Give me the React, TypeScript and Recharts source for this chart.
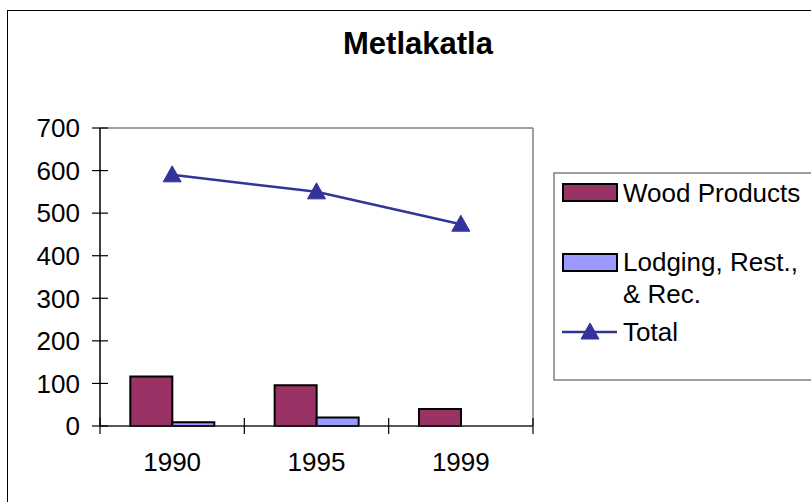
import React from "react";
import { ComposedChart, Bar, Line, XAxis, YAxis } from "recharts";

const years = ["1990", "1995", "1999"];
const woodProducts = [116, 96, 40];
const lodging = [9, 20, 0];
const totals = [590, 550, 474];
const yTicks = [0, 100, 200, 300, 400, 500, 600, 700];

const seriesNames = { wood: "Wood Products", lodging: "Lodging, Rest., & Rec.", total: "Total" };
const colors = { wood: "#993366", lodging: "#9999FF", total: "#333399" };

const data = years.map((y, i) => ({
  year: y,
  wood: woodProducts[i],
  lodging: lodging[i] > 0 ? lodging[i] : null,
  total: totals[i],
}));

const FONT = "'Liberation Sans', Arial, Helvetica, sans-serif";
const W = 811;
const H = 502;
const MARGIN = { top: 128, right: 278, bottom: 16, left: 40 };
const Y_AXIS_W = 60;
const X_AXIS_H = 60;
const TICK = 8;
const plotLeft = MARGIN.left + Y_AXIS_W;
const plotRight = W - MARGIN.right;
const plotTop = MARGIN.top;
const plotBottom = H - MARGIN.bottom - X_AXIS_H;
const plotWidth = plotRight - plotLeft;
const band = plotWidth / years.length;

const YTick = (props: any) => {
  const { x, y, payload } = props;
  const lx = x + 12;
  return (
    <g>
      <line x1={lx} x2={lx + TICK * 2} y1={y} y2={y} stroke="#000" strokeWidth={1.2} />
      <text x={x} y={y} dy="0.355em" textAnchor="end" fontSize={26} fontFamily={FONT} fill="#000">
        {payload.value}
      </text>
    </g>
  );
};

const XTick = (props: any) => {
  const { x, y, payload, index } = props;
  const axisY = y - TICK - 19;
  const left = x - band / 2;
  const right = x + band / 2;
  return (
    <g>
      <line x1={left} x2={left} y1={axisY - TICK} y2={axisY + TICK} stroke="#000" strokeWidth={1.2} />
      {index === years.length - 1 && (
        <line x1={right} x2={right} y1={axisY - TICK} y2={axisY + TICK} stroke="#000" strokeWidth={1.2} />
      )}
      <text x={x} y={y} dy="0.71em" textAnchor="middle" fontSize={26} fontFamily={FONT} fill="#000">
        {payload.value}
      </text>
    </g>
  );
};

const Triangle = (props: any) => {
  const { cx, cy } = props;
  if (cx == null || cy == null) return null;
  return <path d={`M${cx},${cy - 9} L${cx + 9},${cy + 7} L${cx - 9},${cy + 7} Z`} fill={colors.total} stroke={colors.total} />;
};

export default function App() {
  return (
    <div style={{ position: "absolute", left: 0, top: 0, width: W, height: H, overflow: "hidden", background: "#fff" }}>
      <div
        style={{
          position: "absolute",
          left: 7,
          top: 10,
          width: 1200,
          height: 1200,
          borderLeft: "1px solid #000",
          borderTop: "1px solid #000",
        }}
      />
      <div
        style={{
          position: "absolute",
          left: 0,
          width: 836,
          top: 26,
          textAlign: "center",
          fontFamily: FONT,
          fontWeight: "bold",
          fontSize: 31,
          lineHeight: "36px",
        }}
      >
        Metlakatla
      </div>
      <svg width={W} height={H} style={{ position: "absolute", left: 0, top: 0 }}>
        <line x1={plotLeft} x2={plotRight} y1={plotTop} y2={plotTop} stroke="#808080" strokeWidth={1.5} />
        <line x1={plotRight} x2={plotRight} y1={plotTop} y2={plotBottom} stroke="#808080" strokeWidth={1.5} />
      </svg>
      <div style={{ position: "absolute", left: 0, top: 0 }}>
        <ComposedChart width={W} height={H} data={data} margin={MARGIN} barCategoryGap="21%" barGap={0}>
          <XAxis
            dataKey="year"
            height={X_AXIS_H}
            tickSize={TICK}
            tickMargin={19}
            tickLine={false}
            tick={<XTick />}
            axisLine={{ stroke: "#222", strokeWidth: 1.5 }}
            interval={0}
          />
          <YAxis
            width={Y_AXIS_W}
            domain={[0, 700]}
            ticks={yTicks}
            tickSize={TICK}
            tickMargin={12}
            tickLine={false}
            tick={<YTick />}
            axisLine={{ stroke: "#000", strokeWidth: 1.5 }}
            interval={0}
          />
          <Bar dataKey="wood" name={seriesNames.wood} fill={colors.wood} stroke="#000" strokeWidth={2} isAnimationActive={false} />
          <Bar dataKey="lodging" name={seriesNames.lodging} fill={colors.lodging} stroke="#000" strokeWidth={2} isAnimationActive={false} />
          <Line
            dataKey="total"
            name={seriesNames.total}
            stroke={colors.total}
            strokeWidth={2.5}
            dot={<Triangle />}
            activeDot={false}
            isAnimationActive={false}
          />
        </ComposedChart>
      </div>
      <svg width={W} height={H} style={{ position: "absolute", left: 0, top: 0, pointerEvents: "none" }}>
        <rect x={554} y={173} width={300} height={207} fill="#fff" stroke="#808080" strokeWidth={1.5} />
        <rect x={563} y={184} width={54} height={17} fill={colors.wood} stroke="#000" strokeWidth={2} />
        <text x={623} y={201.5} fontSize={26} fontFamily={FONT} fill="#000">
          {seriesNames.wood}
        </text>
        <rect x={563} y={254} width={54} height={17} fill={colors.lodging} stroke="#000" strokeWidth={2} />
        <text x={623} y={270.5} fontSize={26} fontFamily={FONT} fill="#000">
          Lodging, Rest.,
        </text>
        <text x={623} y={303} fontSize={26} fontFamily={FONT} fill="#000">
          &amp; Rec.
        </text>
        <line x1={562} x2={617} y1={332} y2={332} stroke={colors.total} strokeWidth={2.5} />
        <Triangle cx={590} cy={332} />
        <text x={623} y={341} fontSize={26} fontFamily={FONT} fill="#000">
          {seriesNames.total}
        </text>
      </svg>
    </div>
  );
}
